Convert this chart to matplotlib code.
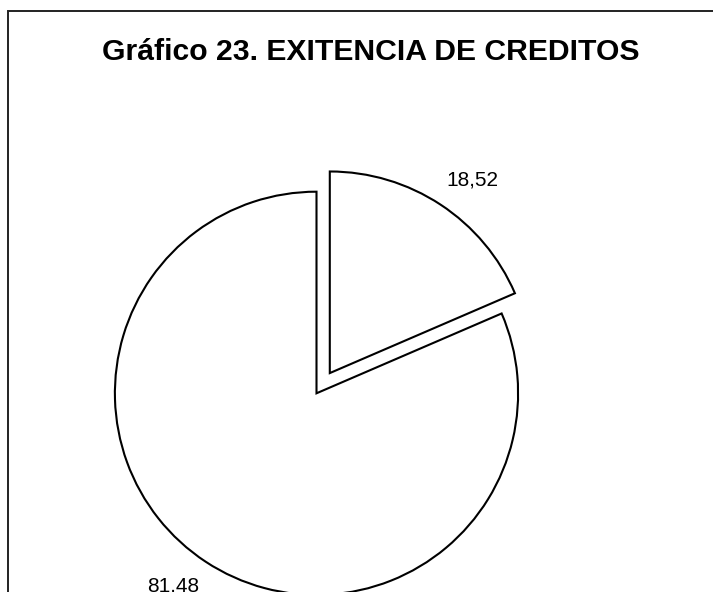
import numpy as np
import matplotlib
import matplotlib.pyplot as plt
from matplotlib.patches import Rectangle

#No display
matplotlib.use('Agg')

plt.rcParams['font.family'] = ['Liberation Sans', 'DejaVu Sans']

#Data
labels = ["18,52", "81,48"]
values = [18.52, 81.48]
explode = [0.12, 0]

fig = plt.figure(figsize=(7.13, 5.92), dpi=100)
fig.patch.set_facecolor("white")

#frame of the chart area (runs off the right and bottom edges)
fig.patches.append(Rectangle((8/713, -0.1), 1.2, (592-11)/592 + 0.1,
                             transform=fig.transFigure, fill=False,
                             edgecolor="#222222", linewidth=1.4))

fig.text(371/713, 1 - 52/592, "Gráfico 23. EXITENCIA DE CREDITOS",
         ha="center", va="center", fontsize=21.7, fontweight="bold")

#axes placed so the pie sits where it does in the original
r_px = 201.6
cx, cy = 316.5, 592 - 393.3
w = 3 * r_px
ax = fig.add_axes([(cx - w/2)/713, (cy - w/2)/592, w/713, w/592])

wedges, texts = ax.pie(values, labels=labels, explode=explode, startangle=90,
                       counterclock=False, labeldistance=1.19,
                       colors=["white", "white"],
                       wedgeprops=dict(edgecolor="black", linewidth=1.5),
                       textprops=dict(fontsize=15))

#labels in the original sit a few degrees clockwise of the slice middle
for wdg, t in zip(wedges, texts):
    mid = np.deg2rad((wdg.theta1 + wdg.theta2) / 2 - 3.2)
    x0, y0 = wdg.center
    t.set_position((x0 + 1.19 * np.cos(mid), y0 + 1.19 * np.sin(mid)))
    t.set_ha("center")
    t.set_va("center")

#pie() resets the limits, so set them afterwards
ax.set_xlim(-1.5, 1.5)
ax.set_ylim(-1.5, 1.5)
ax.set_aspect("equal")
ax.axis("off")

fig.savefig("out.png", dpi=100, facecolor="white")
